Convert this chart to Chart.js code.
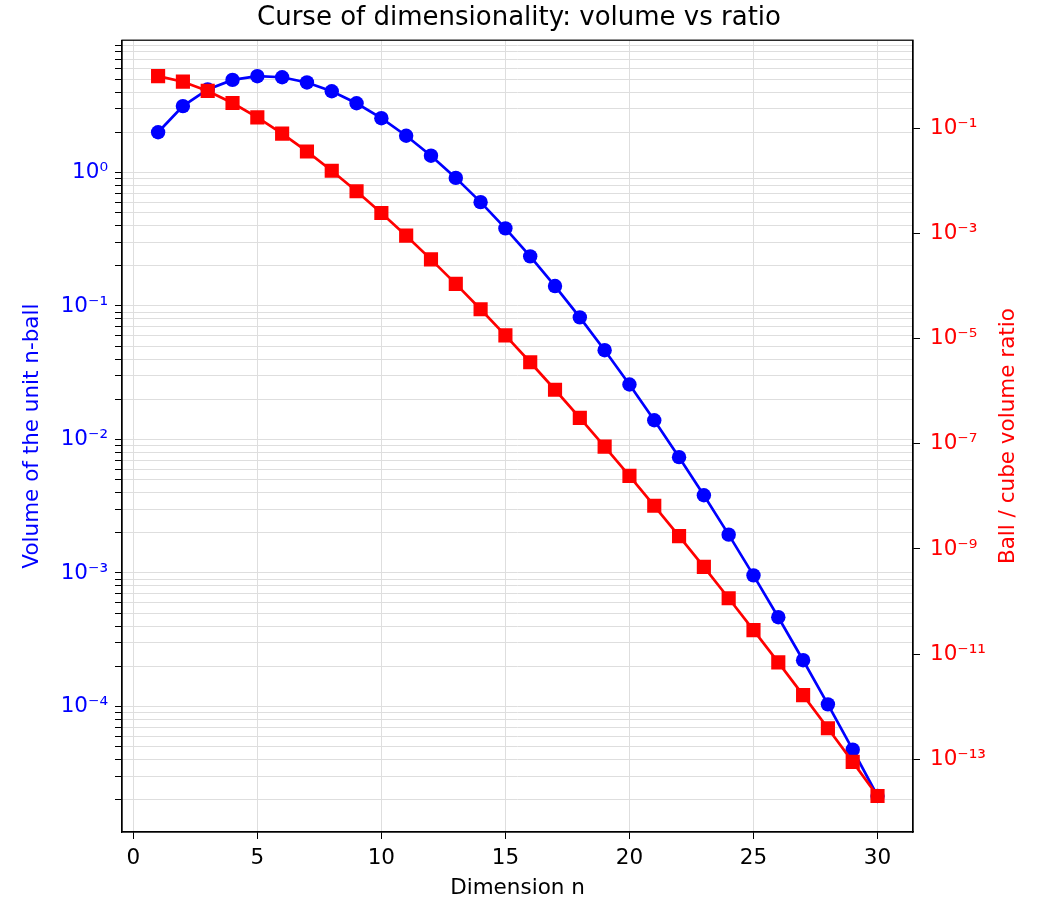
<!DOCTYPE html>
<html>
<head>
<meta charset="utf-8">
<script src="https://cdn.jsdelivr.net/npm/chart.js@4"></script>
<style>
  body { margin: 0; background: #fff; }
  #wrap { width: 1038px; height: 901px; }
</style>
</head>
<body>
<div id="wrap"><canvas id="myChart"></canvas></div>
<script>
// dimension n
const dims = [1, 2, 3, 4, 5, 6, 7, 8, 9, 10, 11, 12, 13, 14, 15,
              16, 17, 18, 19, 20, 21, 22, 23, 24, 25, 26, 27, 28, 29, 30];
// volume of the unit n-ball
const ballVolume = [2.0, 3.1416, 4.1888, 4.9348, 5.2638, 5.1677, 4.7248, 4.0587, 3.2985, 2.5502,
                    1.8841, 1.3353, 0.91063, 0.59926, 0.38144, 0.23533, 0.14098, 0.082146, 0.046622, 0.025807,
                    0.013935, 0.0073704, 0.0038213, 0.0019363, 0.00095991, 0.00046630, 0.00022206, 0.00010368, 0.000047481, 0.000021343];
// ball / cube volume ratio
const volumeRatio = [1.0, 0.7854, 0.5236, 0.30843, 0.16449, 0.080746, 0.036912, 0.015854, 0.0064424, 0.0024904,
                     9.1997e-4, 3.2599e-4, 1.1116e-4, 3.6576e-5, 1.1641e-5, 3.5909e-6, 1.0756e-6, 3.1336e-7, 8.8924e-8, 2.4611e-8,
                     6.6447e-9, 1.7573e-9, 4.5553e-10, 1.1541e-10, 2.8608e-11, 6.9485e-12, 1.6545e-12, 3.8622e-13, 8.8445e-14, 1.9877e-14];

const xTicks = [0, 5, 10, 15, 20, 25, 30];
const leftExponents = [-5, -4, -3, -2, -1, 0];
const rightExponents = [-1, -3, -5, -7, -9, -11, -13];

const FONT = "'DejaVu Sans', sans-serif";
const GRID = '#dedede';

const sup = { '-': '\u207B', '0': '\u2070', '1': '\u00B9', '2': '\u00B2', '3': '\u00B3', '4': '\u2074',
              '5': '\u2075', '6': '\u2076', '7': '\u2077', '8': '\u2078', '9': '\u2079' };
function powLabel(v) {
  const e = Math.round(Math.log10(v));
  if (Math.abs(Math.log10(v) - e) > 1e-6) return '';
  return '10' + String(e).split('').map(c => sup[c]).join('');
}

// black frame round the plot and the right axis title (reads bottom to top)
const framePlugin = {
  id: 'frame',
  afterDraw(chart) {
    const a = chart.chartArea, c = chart.ctx;
    c.save();
    c.strokeStyle = '#000';
    c.lineWidth = 1.25;
    c.strokeRect(a.left, a.top, a.right - a.left, a.bottom - a.top);
    c.translate(1008, (a.top + a.bottom) / 2);
    c.rotate(-Math.PI / 2);
    c.fillStyle = '#ff0000';
    c.font = '21.5px ' + FONT;
    c.textAlign = 'center';
    c.textBaseline = 'middle';
    c.fillText('Ball / cube volume ratio', 0, 0);
    c.restore();
  }
};

const ctx = document.getElementById('myChart').getContext('2d');
var myChart = new Chart(ctx, {
  type: 'line',
  data: {
    datasets: [{
      label: 'Volume',
      data: dims.map((n, i) => ({ x: n, y: ballVolume[i] })),
      yAxisID: 'y',
      borderColor: '#0000ff',
      backgroundColor: '#0000ff',
      borderWidth: 2.7,
      pointStyle: 'circle',
      pointRadius: 7.2,
      pointBorderWidth: 0,
      order: 1
    }, {
      label: 'Ratio',
      data: dims.map((n, i) => ({ x: n, y: volumeRatio[i] })),
      yAxisID: 'y2',
      borderColor: '#ff0000',
      backgroundColor: '#ff0000',
      borderWidth: 2.7,
      pointStyle: 'rect',
      pointRadius: 10,
      pointBorderWidth: 0,
      order: 0
    }]
  },
  options: {
    responsive: true,
    maintainAspectRatio: false,
    animation: false,
    layout: { padding: 0 },
    plugins: {
      legend: { display: false },
      tooltip: { enabled: false },
      title: {
        display: true,
        text: 'Curse of dimensionality: volume vs ratio',
        color: '#000',
        font: { family: FONT, size: 26, weight: 'normal' },
        padding: { top: 3, bottom: 6 }
      }
    },
    scales: {
      x: {
        type: 'linear',
        min: -0.455,
        max: 31.43,
        afterBuildTicks: s => { s.ticks = xTicks.map(v => ({ value: v })); },
        afterFit: s => { s.height = 69; },
        grid: { color: GRID, tickColor: '#000', tickLength: 7, lineWidth: 1 },
        border: { color: '#000', width: 1.25 },
        ticks: { color: '#000', font: { family: FONT, size: 21.5 }, padding: 7, autoSkip: false, maxRotation: 0 },
        title: { display: true, text: 'Dimension n', color: '#000', font: { family: FONT, size: 21.5 }, padding: { top: 0, bottom: 0 } }
      },
      y: {
        type: 'logarithmic',
        position: 'left',
        min: 1.147e-5,
        max: 9.79,
        bounds: 'data',
        afterBuildTicks: s => {
          const t = [];
          leftExponents.forEach(e => {
            for (let m = 1; m <= 9; m++) {
              const v = m * Math.pow(10, e);
              if (v >= s.min && v <= s.max) t.push({ value: v, major: m === 1 });
            }
          });
          s.ticks = t;
        },
        afterFit: s => { s.width = 122; },
        grid: { color: GRID, tickColor: '#000', tickLength: 7, lineWidth: 1 },
        border: { color: '#000', width: 1.25 },
        ticks: { color: '#0000ff', font: { family: FONT, size: 21.5 }, padding: 7, autoSkip: false, callback: v => powLabel(v) },
        title: { display: true, text: 'Volume of the unit n-ball', color: '#0000ff', font: { family: FONT, size: 21.5 }, padding: { top: 20, bottom: 0 } }
      },
      y2: {
        type: 'logarithmic',
        position: 'right',
        min: 4.10e-15,
        max: 4.84,
        bounds: 'data',
        afterBuildTicks: s => { s.ticks = rightExponents.map(e => ({ value: Math.pow(10, e), major: true })); },
        afterFit: s => { s.width = 125; },
        grid: { display: true, drawOnChartArea: false, tickColor: '#000', tickLength: 7 },
        border: { color: '#000', width: 1.25 },
        ticks: { color: '#ff0000', font: { family: FONT, size: 21.5 }, padding: 10, autoSkip: false, callback: v => powLabel(v) }
      }
    }
  },
  plugins: [framePlugin]
});
</script>
</body>
</html>
